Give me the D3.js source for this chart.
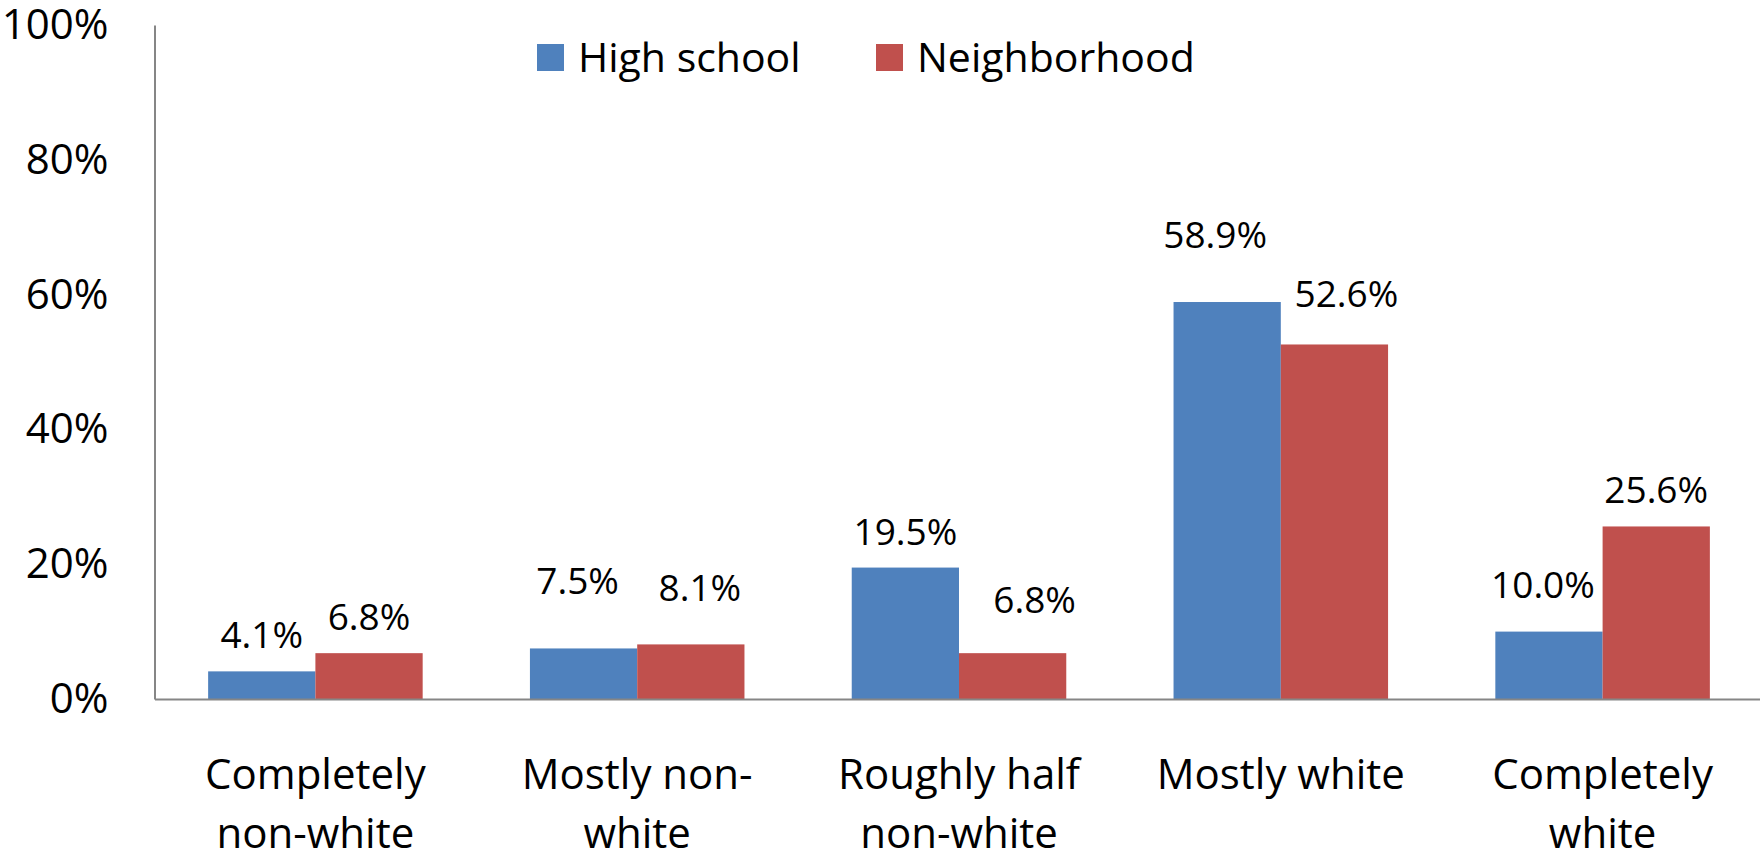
<!DOCTYPE html>
<html>
<head>
<meta charset="utf-8">
<script src="https://cdn.jsdelivr.net/npm/d3@7"></script>
<style>
  html, body { margin: 0; padding: 0; background: #fff; }
  svg { display: block; font-family: "Open Sans", "Noto Sans", sans-serif; }
</style>
</head>
<body>
<svg id="chart" width="1760" height="853"></svg>
<script>
// Racial composition of respondents' high schools vs. neighborhoods
const categories = [
  "Completely\nnon-white",
  "Mostly non-\nwhite",
  "Roughly half\nnon-white",
  "Mostly white",
  "Completely\nwhite"
];
const seriesNames = ["High school", "Neighborhood"];
const highSchool = [4.1, 7.5, 19.5, 58.9, 10.0];
const neighborhood = [6.8, 8.1, 6.8, 52.6, 25.6];
const yTicks = [0, 20, 40, 60, 80, 100];

// Hand-placed data label nudges: [dx, gap above bar top]
const labelNudgeHS = [[0, 23], [-6, 54], [0, 23], [-12, 54], [-6, 34]];
const labelNudgeNB = [[0, 23], [9, 43], [22, 40], [12, 37], [0, 23]];

const colors = { "High school": "#4F81BD", "Neighborhood": "#C0504D" };
const axisColor = "#868686";

const svg = d3.select("#chart");
const plotLeft = 154.5, plotRight = 1763.5, plotTop = 25, plotBottom = 699;

const x = d3.scaleBand().domain(categories).range([plotLeft, plotRight]).padding(0);
const xs = d3.scaleBand().domain(seriesNames).range([0, x.bandwidth()])
  .paddingInner(0).paddingOuter(0.5);
const y = d3.scaleLinear().domain([0, 100]).range([plotBottom, plotTop]);

const rows = categories.map((c, i) => ({
  cat: c,
  vals: [
    { s: "High school", v: highSchool[i], nudge: labelNudgeHS[i] },
    { s: "Neighborhood", v: neighborhood[i], nudge: labelNudgeNB[i] }
  ]
}));

// Bars
const groups = svg.append("g").selectAll("g").data(rows).join("g")
  .attr("transform", d => `translate(${x(d.cat)},0)`);

groups.selectAll("rect").data(d => d.vals).join("rect")
  .attr("x", d => xs(d.s))
  .attr("width", xs.bandwidth())
  .attr("y", d => y(d.v))
  .attr("height", d => y(0) - y(d.v))
  .attr("fill", d => colors[d.s]);

// Data labels
groups.selectAll("text").data(d => d.vals).join("text")
  .attr("x", d => xs(d.s) + xs.bandwidth() / 2 + d.nudge[0])
  .attr("y", d => y(d.v) - d.nudge[1])
  .attr("text-anchor", "middle")
  .attr("font-size", 37)
  .attr("fill", "#000")
  .text(d => d.v.toFixed(1) + "%");

// Y axis
const yAxis = svg.append("g")
  .attr("transform", `translate(${plotLeft},0)`)
  .call(d3.axisLeft(y).tickValues(yTicks).tickSize(0).tickPadding(46)
    .tickFormat(d => d + "%"));
yAxis.select(".domain").attr("stroke", axisColor).attr("stroke-width", 2);
yAxis.selectAll("text").attr("font-size", 42).attr("fill", "#000")
  .attr("font-family", "Open Sans, Noto Sans, sans-serif");

// X axis
const xAxis = svg.append("g")
  .attr("transform", `translate(0,${plotBottom})`)
  .call(d3.axisBottom(x).tickSize(0).tickFormat(""));
xAxis.select(".domain").attr("stroke", axisColor).attr("stroke-width", 2);
xAxis.selectAll(".tick text").each(function (d) {
  const t = d3.select(this)
    .attr("font-size", 42).attr("fill", "#000")
    .attr("font-family", "Open Sans, Noto Sans, sans-serif")
    .attr("y", 0).attr("dy", null);
  d.split("\n").forEach((line, i) => {
    t.append("tspan").attr("x", 0).attr("y", 90 + i * 59).text(line);
  });
});

// Legend
const legendItems = [
  { name: "High school", x: 537 },
  { name: "Neighborhood", x: 876 }
];
const legend = svg.append("g").selectAll("g").data(legendItems).join("g")
  .attr("transform", d => `translate(${d.x},44)`);
legend.append("rect").attr("width", 27).attr("height", 27)
  .attr("fill", d => colors[d.name]);
legend.append("text").attr("x", 41).attr("y", 28)
  .attr("font-size", 41).attr("fill", "#000")
  .text(d => d.name);
</script>
</body>
</html>
